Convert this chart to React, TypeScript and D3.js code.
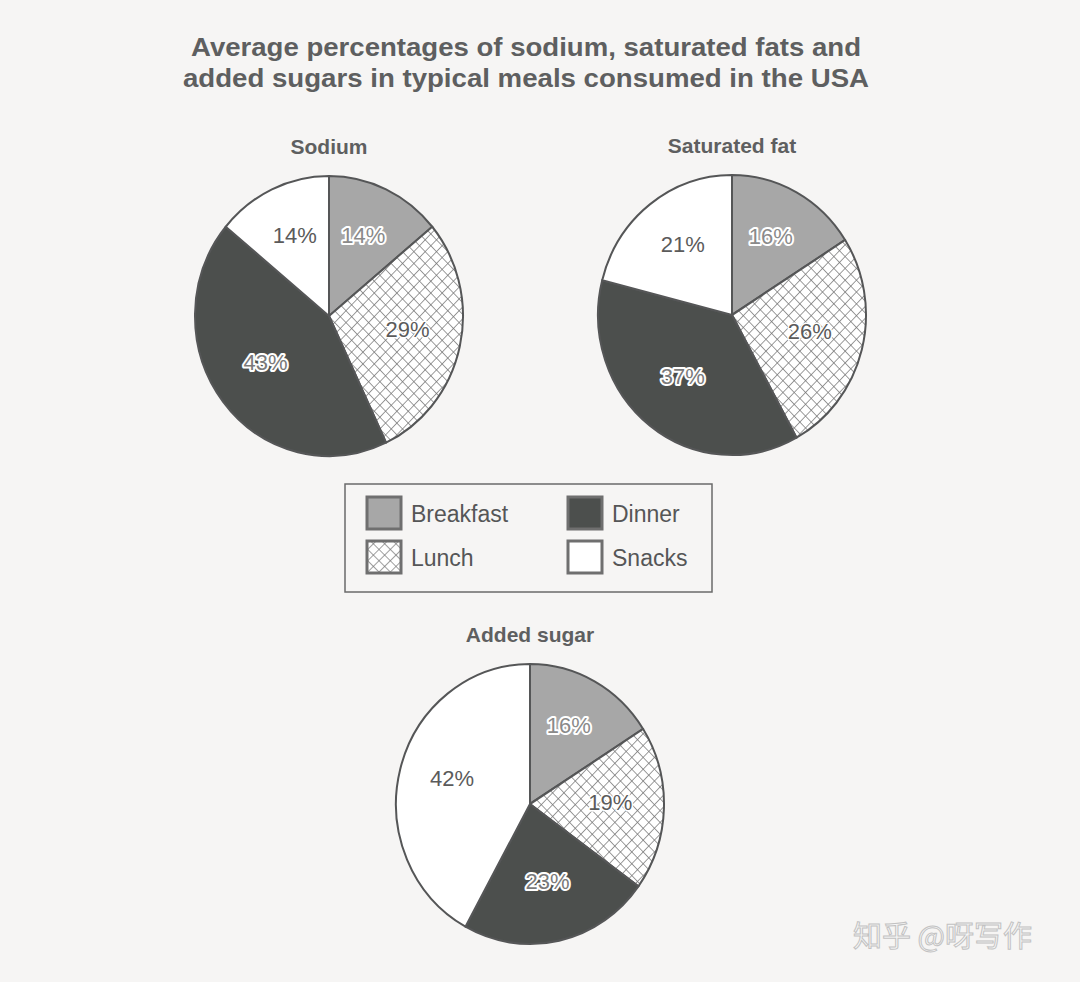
import * as d3 from "d3";

// meals in drawing order, clockwise from 12 o'clock
const meals = ["Breakfast", "Lunch", "Dinner", "Snacks"];
const sodium = [14, 29, 43, 14];
const saturatedFat = [16, 26, 37, 21];
const addedSugar = [16, 19, 23, 42];

const charts = [
  { title: "Sodium", values: sodium, cx: 329, cy: 316 },
  { title: "Saturated fat", values: saturatedFat, cx: 732, cy: 315 },
  { title: "Added sugar", values: addedSugar, cx: 530, cy: 804 },
];

const titleLines = [
  "Average percentages of sodium, saturated fats and",
  "added sugars in typical meals consumed in the USA",
];
const titleWidths = [670, 686];

const W = 1080;
const H = 982;
const R = 134;
const SQUASH = 140 / 134; // scan made the pies a bit taller than wide
const INK = "#555657";
const BG = "#f6f5f4";

const fills: Record<string, string> = {
  Breakfast: "#a7a7a7",
  Lunch: "url(#hatch)",
  Dinner: "#4c4f4d",
  Snacks: "#ffffff",
};

const labelStyle: Record<string, { fill: string; halo: number }> = {
  Breakfast: { fill: "#8a8a8a", halo: 4 },
  Lunch: { fill: "#5b5b5b", halo: 3 },
  Dinner: { fill: "#7a7a7a", halo: 4 },
  Snacks: { fill: "#5b5b5b", halo: 0 },
};

const FONT = "'Liberation Sans', Arial, sans-serif";

const pie = d3
  .pie<number>()
  .sort(null)
  .value((d) => d);

const arc = d3.arc<d3.PieArcDatum<number>>().innerRadius(0).outerRadius(R);
const labelArc = d3
  .arc<d3.PieArcDatum<number>>()
  .innerRadius(R * 0.6)
  .outerRadius(R * 0.6);

function Pie({ title, values, cx, cy }: { title: string; values: number[]; cx: number; cy: number }) {
  const arcs = pie(values);
  return (
    <g>
      <text
        x={cx}
        y={cy - R * SQUASH - 22}
        textAnchor="middle"
        fontFamily={FONT}
        fontWeight="bold"
        fontSize={21}
        fill="#5e5f60"
      >
        {title}
      </text>
      <g transform={`translate(${cx},${cy}) scale(1,${SQUASH})`}>
        {arcs.map((a, i) => (
          <path
            key={meals[i]}
            d={arc(a) ?? ""}
            fill={fills[meals[i]]}
            stroke={INK}
            strokeWidth={2}
            strokeLinejoin="round"
          />
        ))}
      </g>
      {arcs.map((a, i) => {
        const [lx, ly] = labelArc.centroid(a);
        const st = labelStyle[meals[i]];
        return (
          <text
            key={meals[i]}
            x={cx + lx}
            y={cy + ly * SQUASH + 3}
            textAnchor="middle"
            fontFamily={FONT}
            fontSize={22}
            fill={st.fill}
            stroke={st.halo ? "#ffffff" : "none"}
            strokeWidth={st.halo}
            strokeLinejoin="round"
            paintOrder="stroke"
          >
            {values[i]}%
          </text>
        );
      })}
    </g>
  );
}

function Legend() {
  const x0 = 345;
  const y0 = 484;
  const col = d3.scaleOrdinal<string, number>().domain(meals).range([367, 367, 568, 568]);
  const row = d3.scaleOrdinal<string, number>().domain(meals).range([497, 541, 497, 541]);
  return (
    <g>
      <rect x={x0} y={y0} width={367} height={108} fill="none" stroke="#6a6a6a" strokeWidth={1.5} />
      {meals.map((m) => (
        <g key={m}>
          <rect
            x={col(m)}
            y={row(m)}
            width={34}
            height={32}
            fill={fills[m]}
            stroke="#6f6f6f"
            strokeWidth={3}
          />
          <text
            x={col(m) + 44}
            y={row(m) + 25}
            fontFamily={FONT}
            fontSize={23}
            fill={INK}
          >
            {m}
          </text>
        </g>
      ))}
    </g>
  );
}

export default function App() {
  return (
    <svg
      width={W}
      height={H}
      viewBox={`0 0 ${W} ${H}`}
      style={{ position: "absolute", left: 0, top: 0, background: BG }}
    >
      <defs>
        <pattern
          id="hatch"
          width={8}
          height={8}
          patternUnits="userSpaceOnUse"
          patternTransform="rotate(45)"
        >
          <rect width={8} height={8} fill="#ffffff" />
          <line x1={0} y1={0} x2={0} y2={8} stroke="#767676" strokeWidth={1.4} />
          <line x1={0} y1={0} x2={8} y2={0} stroke="#767676" strokeWidth={1.4} />
        </pattern>
      </defs>
      <rect width={W} height={H} fill={BG} />
      {titleLines.map((t, i) => (
        <text
          key={i}
          x={526}
          y={56 + i * 31}
          textAnchor="middle"
          fontFamily={FONT}
          fontWeight="bold"
          fontSize={26}
          textLength={titleWidths[i]}
          lengthAdjust="spacingAndGlyphs"
          fill="#5e5f60"
        >
          {t}
        </text>
      ))}
      {charts.map((c) => (
        <Pie key={c.title} {...c} />
      ))}
      <Legend />
      <text
        x={853}
        y={947}
        fontFamily="'Noto Sans CJK SC', sans-serif"
        fontSize={29}
        fill="#f6f6f6"
        stroke="#c2c2c2"
        strokeWidth={1}
      >
        知乎 @呀写作
      </text>
    </svg>
  );
}
